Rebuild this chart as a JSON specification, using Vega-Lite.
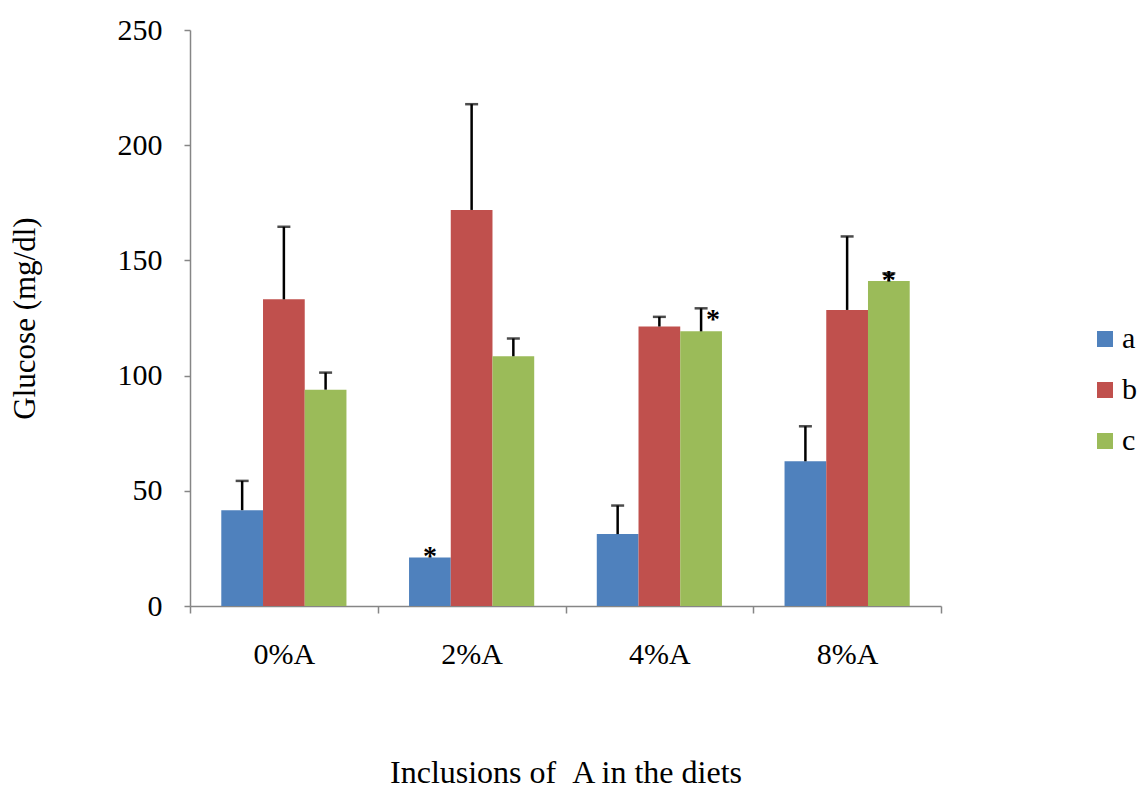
{
  "$schema": "https://vega.github.io/schema/vega-lite/v6.json",
  "width": 751,
  "height": 576,
  "autosize": {"type": "none"},
  "padding": {"left": 190, "top": 30, "right": 198, "bottom": 183},
  "background": "white",
  "config": {
    "font": "Liberation Serif",
    "view": {"stroke": null},
    "axis": {"labelFont": "Liberation Serif", "titleFont": "Liberation Serif", "labelColor": "black", "titleColor": "black", "titleFontWeight": "normal", "domainColor": "#868686", "tickColor": "#868686", "domainWidth": 1.5, "tickWidth": 1.5, "grid": false},
    "legend": {"labelFont": "Liberation Serif"}
  },
  "datasets": {
    "bars": [
      {"group": "0%A", "series": "a", "value": 41.6, "upper": 54.3},
      {"group": "0%A", "series": "b", "value": 133.1, "upper": 164.6},
      {"group": "0%A", "series": "c", "value": 93.9, "upper": 101.3},
      {"group": "2%A", "series": "a", "value": 21.1, "upper": 21.1},
      {"group": "2%A", "series": "b", "value": 171.9, "upper": 217.8},
      {"group": "2%A", "series": "c", "value": 108.4, "upper": 116.1},
      {"group": "4%A", "series": "a", "value": 31.2, "upper": 43.6},
      {"group": "4%A", "series": "b", "value": 121.3, "upper": 125.5},
      {"group": "4%A", "series": "c", "value": 119.2, "upper": 129.2},
      {"group": "8%A", "series": "a", "value": 62.8, "upper": 78.0},
      {"group": "8%A", "series": "b", "value": 128.5, "upper": 160.4},
      {"group": "8%A", "series": "c", "value": 141.1, "upper": 144.4}
    ],
    "stars": [
      {"group": "2%A", "series": "a", "at": 21.1},
      {"group": "4%A", "series": "c", "at": 129.2},
      {"group": "8%A", "series": "c", "at": 141.1}
    ]
  },
  "encoding": {
    "x": {
      "field": "group", "type": "nominal", "sort": ["0%A", "2%A", "4%A", "8%A"],
      "scale": {"paddingInner": 0, "paddingOuter": 0},
      "axis": {"title": "Inclusions of \u00a0A in the diets", "labelAngle": 0, "tickBand": "extent", "tickSize": 7, "labelPadding": 26, "labelFontSize": 30, "titleFontSize": 32, "titlePadding": 88}
    },
    "xOffset": {"field": "series", "type": "nominal", "sort": ["a", "b", "c"], "scale": {"paddingOuter": 0.75, "paddingInner": 0}}
  },
  "layer": [
    {
      "data": {"name": "bars"},
      "mark": {"type": "bar"},
      "encoding": {
        "y": {
          "field": "value", "type": "quantitative",
          "scale": {"domain": [0, 250], "nice": false},
          "axis": {"title": "Glucose (mg/dl)", "values": [0, 50, 100, 150, 200, 250], "tickSize": 6, "labelPadding": 22, "labelFontSize": 30, "titleFontSize": 31, "titlePadding": 76}
        },
        "color": {
          "field": "series", "type": "nominal",
          "scale": {"domain": ["a", "b", "c"], "range": ["#4F81BD", "#C0504D", "#9BBB59"]},
          "legend": {"title": null, "orient": "none", "legendX": 900, "legendY": 294, "padding": 0, "symbolType": "square", "symbolSize": 256, "symbolStrokeWidth": 0, "labelFontSize": 30, "rowPadding": 21, "labelOffset": 2}
        }
      }
    },
    {
      "data": {"name": "bars"},
      "mark": {"type": "rule", "color": "black", "strokeWidth": 2.5},
      "encoding": {
        "y": {"field": "value", "type": "quantitative"},
        "y2": {"field": "upper"}
      }
    },
    {
      "data": {"name": "bars"},
      "transform": [{"filter": "datum.upper > datum.value"}],
      "mark": {"type": "tick", "color": "black", "size": 13, "thickness": 2.5, "orient": "horizontal"},
      "encoding": {
        "y": {"field": "upper", "type": "quantitative"}
      }
    },
    {
      "data": {"name": "stars"},
      "transform": [{"filter": "datum.group != '4%A'"}],
      "mark": {"type": "text", "text": "*", "fontSize": 28, "fontWeight": "bold", "baseline": "alphabetic", "dy": 8, "color": "black"},
      "encoding": {
        "y": {"field": "at", "type": "quantitative"}
      }
    },
    {
      "data": {"name": "stars"},
      "transform": [{"filter": "datum.group == '4%A'"}],
      "mark": {"type": "text", "text": "*", "fontSize": 28, "fontWeight": "bold", "baseline": "alphabetic", "dy": 20, "dx": 12, "color": "black"},
      "encoding": {
        "y": {"field": "at", "type": "quantitative"}
      }
    }
  ]
}
